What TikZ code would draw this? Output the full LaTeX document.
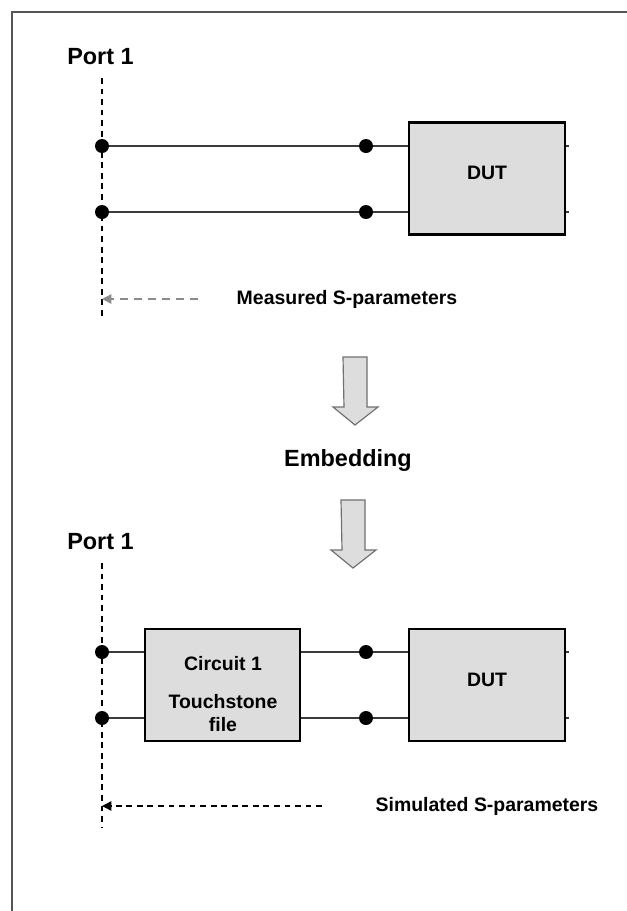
\documentclass[tikz,border=0pt]{standalone}
\usepackage{fontspec}
\setmainfont{Liberation Sans}
\usetikzlibrary{arrows.meta}
\definecolor{boxfill}{HTML}{DDDDDD}
\definecolor{framegray}{HTML}{555555}
\definecolor{wiregray}{HTML}{3A3A3A}
\definecolor{outlinegray}{HTML}{707070}
\definecolor{refgray}{HTML}{8C8C8C}
\def\px{0.03cm}
\tikzset{
  % one unit = one pixel of the original figure
  block/.style={rectangle, draw=black, fill=boxfill, line width=2.4pt,
    inner sep=0pt, minimum width=156*\px, minimum height=112*\px},
  pin/.style={circle, fill=black, inner sep=0pt, minimum size=14*\px},
  wire/.style={line width=1.4pt, wiregray},
  portline/.style={line width=1.1pt, dash pattern=on 5pt off 4pt},
  refarrow/.style={line width=1.2pt, -{Triangle[length=8pt,width=8pt]}},
  lbl/.style={font=\fontsize{16.6pt}{19.6pt}\selectfont\bfseries, inner sep=0pt},
  heading/.style={font=\fontsize{20pt}{24pt}\selectfont\bfseries, inner sep=0pt},
  blockarrow/.style={draw=outlinegray, fill=boxfill, line width=1pt}
}

\begin{document}
\begin{tikzpicture}[x=\px, y=-\px]
\useasboundingbox (0,0) rectangle (627,911);

% Frame
\draw[framegray, line width=1.7pt] (12,911) -- (12,12) -- (627,12);

% --- Measured set-up ---
\node[heading] (port1a) at (100.5,57) {Port 1};
\coordinate (p1atop) at (102,78);
\coordinate (p1abot) at (102,317);
\draw[portline] (p1atop) -- (p1abot);

\node[block] (duta) at (487,178.5) {};
\node[lbl] (dutalbl) at (487,173) {DUT};

\node[pin] (a1) at (102,146) {};
\node[pin] (a2) at (102,212) {};
\node[pin] (b1) at (366,146) {};
\node[pin] (b2) at (366,212) {};

% Wires
\draw[wire] (a1) -- (b1) -- (duta.west |- b1);
\draw[wire] (a2) -- (b2) -- (duta.west |- b2);
\draw[wire] (duta.east |- b1) -- ++(3,0);
\draw[wire] (duta.east |- b2) -- ++(3,0);

\coordinate (measfrom) at (198,299);
\coordinate (measto) at (102,299);
\draw[refarrow, refgray, dash pattern=on 7pt off 5pt] (measfrom) -- (measto);
\node[lbl] (meas) at (347,299) {Measured S-parameters};

% --- Block arrows ---
\foreach \ax/\ay in {355/357, 353/500} {
  \draw[blockarrow] (\ax,\ay) ++(-12,0) -- ++(24,0) -- ++(0,50) -- ++(11,0)
    -- ++(-23,18) -- ++(-22,-18) -- ++(11,0) -- cycle;
}
\node[heading] (embed) at (348,460) {Embedding};

% --- Simulated set-up ---
\node[heading] (port1b) at (100.5,542) {Port 1};
\coordinate (p1btop) at (102,563);
\coordinate (p1bbot) at (102,827);
\draw[portline] (p1btop) -- (p1bbot);

\node[block, minimum width=155*\px] (circ) at (222.5,685) {};
\node[lbl, align=center] (circlbl) at (223,694.5) {Circuit 1\\[12.8pt]Touchstone\\file};
\node[block] (dutb) at (487,685) {};
\node[lbl] (dutblbl) at (487,680) {DUT};

\node[pin] (c1) at (102,652) {};
\node[pin] (c2) at (102,718) {};
\node[pin] (d1) at (366,652) {};
\node[pin] (d2) at (366,718) {};

% Wires
\draw[wire] (c1) -- (circ.west |- c1);
\draw[wire] (c2) -- (circ.west |- c2);
\draw[wire] (circ.east |- d1) -- (d1) -- (dutb.west |- d1);
\draw[wire] (circ.east |- d2) -- (d2) -- (dutb.west |- d2);
\draw[wire] (dutb.east |- d1) -- ++(3,0);
\draw[wire] (dutb.east |- d2) -- ++(3,0);

\coordinate (simfrom) at (322,806);
\coordinate (simto) at (102,806);
\draw[refarrow, dash pattern=on 5pt off 4pt] (simfrom) -- (simto);
\node[lbl] (sim) at (487,806) {Simulated S-parameters};

\end{tikzpicture}
\end{document}
